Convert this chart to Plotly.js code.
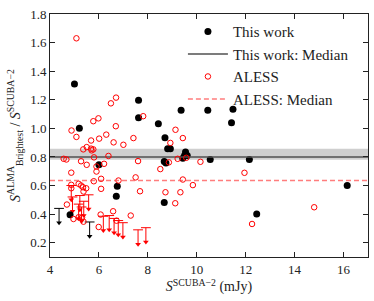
<!DOCTYPE html>
<html>
<head>
<meta charset="utf-8">
<script src="https://cdn.plot.ly/plotly-3.0.1.min.js"></script>
<style>html,body{margin:0;padding:0;background:#fff;}#chart{width:374px;height:301px;}</style>
</head>
<body>
<div id="chart"></div>
<script>
// ---- Data ----
// This work (detections)
const thisWorkX = [5.0, 5.2, 7.62, 7.62, 8.43, 8.70, 9.36, 10.45, 11.48, 11.42, 8.81, 8.92, 9.54, 9.50, 9.43, 9.61, 8.67, 8.74, 6.0, 6.75, 6.71, 4.82, 8.67, 10.55, 12.15, 12.45, 16.15];
const thisWorkY = [1.31, 1.0, 1.197, 1.075, 1.033, 0.935, 1.126, 1.126, 1.133, 1.04, 0.857, 0.857, 0.834, 0.81, 0.79, 0.81, 0.768, 0.757, 0.745, 0.595, 0.525, 0.396, 0.481, 0.782, 0.782, 0.40, 0.60];
// This work (upper limits)
const thisLimX = [4.37, 5.62];
const thisLimY = [0.44, 0.345];
// ALESS (detections)
const alessX = [5.08, 6.70, 6.49, 5.98, 5.77, 6.69, 7.81, 4.88, 5.08, 5.68, 6.01, 6.30, 6.60, 7.00, 7.41, 8.92, 9.13, 9.43, 5.50, 5.36, 5.68, 5.77, 5.70, 4.56, 4.67, 5.27, 5.50, 5.80, 6.21, 6.39, 5.90, 5.90, 7.60, 8.51, 8.86, 9.22, 9.57, 10.15, 5.79, 6.09, 6.09, 6.80, 7.50, 7.68, 4.87, 4.87, 4.87, 5.17, 5.27, 5.35, 5.37, 5.48, 4.69, 4.96, 5.17, 5.31, 5.37, 6.07, 5.99, 6.58, 6.72, 7.30, 8.72, 9.12, 9.33, 9.43, 9.84, 11.95, 12.26, 14.8];
const alessY = [1.63, 1.215, 1.175, 1.07, 1.05, 1.015, 1.085, 0.985, 0.94, 0.915, 0.928, 0.956, 0.902, 0.885, 0.932, 0.898, 0.99, 0.932, 0.869, 0.853, 0.858, 0.853, 0.846, 0.787, 0.782, 0.77, 0.745, 0.797, 0.752, 0.807, 0.733, 0.698, 0.771, 0.715, 0.762, 0.787, 0.794, 0.766, 0.63, 0.647, 0.577, 0.635, 0.657, 0.56, 0.69, 0.605, 0.581, 0.612, 0.60, 0.588, 0.558, 0.581, 0.467, 0.366, 0.378, 0.378, 0.347, 0.397, 0.31, 0.42, 0.354, 0.39, 0.553, 0.476, 0.553, 0.642, 0.603, 0.689, 0.331, 0.448];
// ALESS (upper limits)
const alessLimX = [4.87, 4.92, 5.17, 5.22, 5.29, 5.38, 5.58, 6.18, 6.42, 6.62, 6.79, 6.98, 7.60, 7.92];
const alessLimY = [0.60, 0.52, 0.47, 0.53, 0.45, 0.49, 0.535, 0.385, 0.39, 0.37, 0.355, 0.34, 0.29, 0.305];
const limitLength = 0.1;
// Medians
const thisWorkMedian = 0.80;
const thisWorkMedianBand = [0.78, 0.857];
const alessMedian = 0.635;
// Axes
const xRange = [4, 17];
const yRange = [0.1, 1.8];

const FONT = 'Liberation Serif, DejaVu Serif, serif';
const RED = '#ff0000';
const DASHRED = 'rgba(255,70,70,0.7)';

const tips = (ys) => ys.map(v => v - limitLength);

const traces = [
  // ALESS limits (bars with top cap)
  {x: alessLimX, y: alessLimY, mode: 'markers', type: 'scatter', showlegend: false, hoverinfo: 'skip',
   marker: {symbol: 'line-ew', size: 7, color: RED, line: {color: RED, width: 1}},
   error_y: {type: 'data', symmetric: false, array: alessLimY.map(() => 0), arrayminus: alessLimY.map(() => limitLength), width: 0, color: RED, thickness: 1}},
  {x: alessLimX, y: tips(alessLimY), mode: 'markers', type: 'scatter', showlegend: false, hoverinfo: 'skip',
   marker: {symbol: 'triangle-down', size: 5, color: RED}},
  // This work limits
  {x: thisLimX, y: thisLimY, mode: 'markers', type: 'scatter', showlegend: false, hoverinfo: 'skip',
   marker: {symbol: 'line-ew', size: 7, color: '#000', line: {color: '#000', width: 1}},
   error_y: {type: 'data', symmetric: false, array: thisLimY.map(() => 0), arrayminus: thisLimY.map(() => limitLength), width: 0, color: '#000', thickness: 1}},
  {x: thisLimX, y: tips(thisLimY), mode: 'markers', type: 'scatter', showlegend: false, hoverinfo: 'skip',
   marker: {symbol: 'triangle-down', size: 5, color: '#000'}},
  // Legend-ordered traces
  {x: thisWorkX, y: thisWorkY, name: 'This work', mode: 'markers', type: 'scatter', legendrank: 1,
   marker: {symbol: 'circle', size: 7, color: '#000'}},
  {x: xRange, y: [thisWorkMedian, thisWorkMedian], name: 'This work: Median', mode: 'lines', type: 'scatter', legendrank: 2,
   line: {color: '#505050', width: 1.5}},
  {x: alessX, y: alessY, name: 'ALESS', mode: 'markers', type: 'scatter', legendrank: 3,
   marker: {symbol: 'circle-open', size: 5.5, color: RED, line: {width: 1, color: RED}}},
  {x: xRange, y: [alessMedian, alessMedian], name: 'ALESS: Median', mode: 'lines', type: 'scatter', legendrank: 4,
   line: {color: DASHRED, width: 1.5, dash: '5px,3px'}}
];

const axisCommon = {
  showgrid: false, zeroline: false, showline: true, linecolor: '#222', linewidth: 1,
  mirror: 'ticks', ticks: 'inside', ticklen: 5, tickcolor: '#222', tickwidth: 1,
  tickfont: {family: FONT, size: 13, color: '#222'}
};

const layout = {
  width: 374, height: 301,
  margin: {l: 50, r: 6, t: 14, b: 44},
  paper_bgcolor: '#fff', plot_bgcolor: '#fff',
  showlegend: true,
  legend: {x: 0.418, y: 0.995, xanchor: 'left', yanchor: 'top', bgcolor: 'rgba(0,0,0,0)',
           itemwidth: 40,
           font: {family: FONT, size: 15, color: '#222'}, traceorder: 'normal'},
  xaxis: Object.assign({}, axisCommon, {range: xRange, tick0: 4, dtick: 2,
    title: {text: '<i>S</i><sup>SCUBA−2</sup> (mJy)', font: {family: FONT, size: 14, color: '#222'}, standoff: 4}}),
  yaxis: Object.assign({}, axisCommon, {range: yRange, tick0: 0.2, dtick: 0.2, tickformat: '.1f',
    title: {text: '<i>S</i><sup>ALMA</sup><sub>Brightest</sub> / <i>S</i><sup>SCUBA−2</sup>', font: {family: FONT, size: 14, color: '#222'}, standoff: 6}}),
  shapes: [
    {type: 'rect', xref: 'paper', yref: 'y', x0: 0, x1: 1, y0: thisWorkMedianBand[0], y1: thisWorkMedianBand[1],
     fillcolor: 'rgba(160,160,160,0.5)', line: {width: 0}, layer: 'below'}
  ]
};

Plotly.newPlot('chart', traces, layout, {displayModeBar: false, staticPlot: true});
</script>
</body>
</html>
